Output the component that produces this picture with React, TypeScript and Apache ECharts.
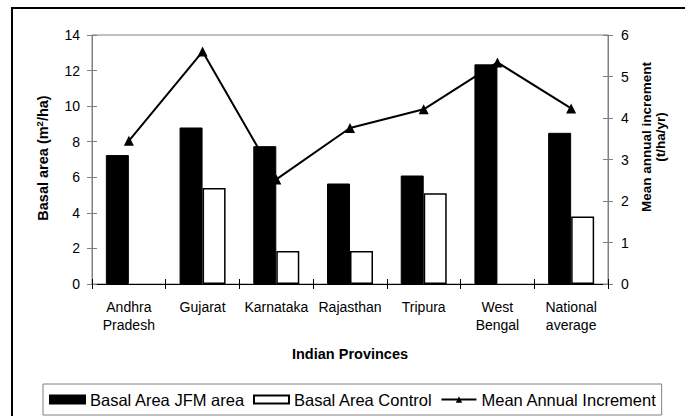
import React, { useEffect, useRef } from "react";
import * as echarts from "echarts";

const categories = ["Andhra\nPradesh", "Gujarat", "Karnataka", "Rajasthan", "Tripura", "West\nBengal", "National\naverage"];
const basalJFM = [7.25, 8.8, 7.75, 5.65, 6.1, 12.35, 8.5];
const basalControl: (number | null)[] = [null, 5.4, 1.85, 1.85, 5.1, null, 3.8];
const meanIncrement = [3.45, 5.6, 2.52, 3.76, 4.21, 5.34, 4.23];
const leftTicks = { min: 0, max: 14, interval: 2 };
const rightTicks = { min: 0, max: 6, interval: 1 };

const FONT = "'Liberation Sans', Arial, sans-serif";

export default function App() {
  const ref = useRef<HTMLDivElement>(null);
  useEffect(() => {
    if (!ref.current) return;
    const chart = echarts.init(ref.current, null, { renderer: "svg" });
    const gray = "#808080";
    chart.setOption({
      animation: false,
      backgroundColor: "#fff",
      textStyle: { fontFamily: FONT, color: "#000" },
      grid: { left: 92, right: 77, top: 35, bottom: 132, show: true, borderColor: gray, borderWidth: 1, backgroundColor: "transparent" },
      legend: {
        left: 43,
        top: 384,
        padding: [7, 5, 7, 6],
        itemGap: 8,
        itemWidth: 35,
        itemHeight: 8,
        borderColor: gray,
        borderWidth: 1,
        textStyle: { fontFamily: FONT, fontSize: 16.5, color: "#000" },
        data: [
          { name: "Basal Area JFM area", icon: "rect" },
          { name: "Basal Area Control", icon: "rect" },
          { name: "Mean Annual Increment" },
        ],
      },
      graphic: [
        {
          type: "rect",
          shape: { x: 12, y: 8, width: 720, height: 500 },
          style: { fill: "none", stroke: "#000", lineWidth: 2 },
          silent: true,
          z: 100,
        },
        {
          type: "text",
          x: 43,
          y: 158,
          rotation: Math.PI / 2,
          style: {
            text: "{b|Basal area (m}{sup|2}{b|/ha)}",
            align: "center",
            verticalAlign: "middle",
            fill: "#000",
            rich: {
              b: { fontFamily: FONT, fontSize: 14.5, fontWeight: "bold", fill: "#000", lineHeight: 17 },
              sup: { fontFamily: FONT, fontSize: 9.5, fontWeight: "bold", fill: "#000", verticalAlign: "top", lineHeight: 10 },
            },
          },
        },
        {
          type: "text",
          x: 653.5,
          y: 137,
          rotation: Math.PI / 2,
          style: {
            text: "Mean annual increment\n(t/ha/yr)",
            align: "center",
            verticalAlign: "middle",
            fontFamily: FONT,
            fontSize: 13.5,
            fontWeight: "bold",
            lineHeight: 14,
            fill: "#000",
          },
        },
      ],
      xAxis: [
        {
          type: "category",
          data: categories,
          position: "bottom",
          axisLine: { lineStyle: { color: "#000", width: 1 } },
          axisTick: { show: true, length: 5, lineStyle: { color: "#000" } },
          axisLabel: { fontFamily: FONT, fontSize: 14, color: "#000", margin: 14, lineHeight: 18, interval: 0 },
          name: "Indian Provinces",
          nameLocation: "middle",
          nameGap: 62,
          nameTextStyle: { fontFamily: FONT, fontSize: 14.5, fontWeight: "bold", color: "#000" },
        },
        {
          type: "category",
          data: categories,
          position: "bottom",
          offset: 0,
          axisLine: { show: false },
          axisTick: { show: true, inside: true, length: 5, lineStyle: { color: "#000" } },
          axisLabel: { show: false },
        },
      ],
      yAxis: [
        {
          type: "value",
          position: "left",
          ...leftTicks,
          axisLine: { show: true, lineStyle: { color: gray } },
          axisTick: { show: true, length: 5, lineStyle: { color: gray } },
          splitLine: { show: false },
          axisLabel: { fontFamily: FONT, fontSize: 14, color: "#000", margin: 12 },
        },
        {
          type: "value",
          position: "right",
          ...rightTicks,
          axisLine: { show: true, lineStyle: { color: gray } },
          axisTick: { show: true, length: 5, lineStyle: { color: gray } },
          splitLine: { show: false },
          axisLabel: { fontFamily: FONT, fontSize: 14, color: "#000", margin: 13 },
        },
        {
          type: "value",
          position: "left",
          offset: 0,
          ...leftTicks,
          axisLine: { show: false },
          axisTick: { show: true, inside: true, length: 5, lineStyle: { color: gray } },
          splitLine: { show: false },
          axisLabel: { show: false },
        },
        {
          type: "value",
          position: "right",
          offset: 0,
          ...rightTicks,
          axisLine: { show: false },
          axisTick: { show: true, inside: true, length: 5, lineStyle: { color: gray } },
          splitLine: { show: false },
          axisLabel: { show: false },
        },
      ],
      series: [
        {
          name: "Basal Area JFM area",
          type: "bar",
          xAxisIndex: 0,
          yAxisIndex: 0,
          data: basalJFM,
          barWidth: 23,
          barGap: "0%",
          itemStyle: { color: "#000", borderColor: "#000", borderWidth: 1 },
        },
        {
          name: "Basal Area Control",
          type: "bar",
          xAxisIndex: 0,
          yAxisIndex: 0,
          data: basalControl,
          barWidth: 23,
          barGap: "0%",
          itemStyle: { color: "#fff", borderColor: "#000", borderWidth: 1.5 },
        },
        {
          name: "Mean Annual Increment",
          type: "line",
          xAxisIndex: 0,
          yAxisIndex: 1,
          data: meanIncrement,
          symbol: "triangle",
          symbolSize: 10,
          lineStyle: { color: "#000", width: 2 },
          itemStyle: { color: "#000" },
          z: 5,
        },
      ],
    });
    return () => chart.dispose();
  }, []);
  return <div ref={ref} style={{ position: "fixed", left: 0, top: 0, width: 685, height: 416 }} />;
}
